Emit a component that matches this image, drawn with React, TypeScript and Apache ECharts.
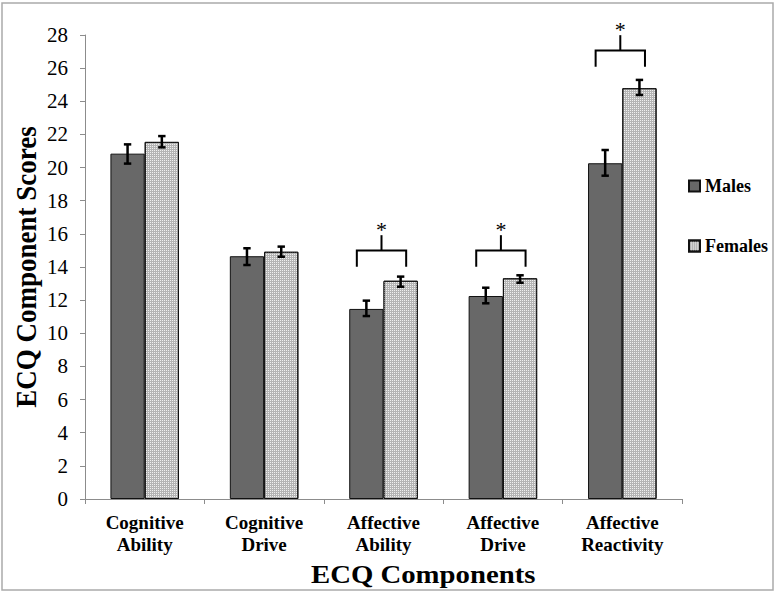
import React, { useEffect, useRef } from "react";
import * as echarts from "echarts";

const categories = [
  "Cognitive\nAbility",
  "Cognitive\nDrive",
  "Affective\nAbility",
  "Affective\nDrive",
  "Affective\nReactivity",
];
const seriesNames = ["Males", "Females"];
const malesMean = [20.84, 14.65, 11.47, 12.25, 20.26];
const malesErrLow = [20.24, 14.12, 11.04, 11.81, 19.51];
const malesErrHigh = [21.4, 15.13, 11.97, 12.75, 21.06];
const femalesMean = [21.55, 14.92, 13.17, 13.32, 24.79];
const femalesErrLow = [21.22, 14.62, 12.81, 13.05, 24.38];
const femalesErrHigh = [21.9, 15.23, 13.42, 13.5, 25.29];
// significance brackets: category index and the value where bracket legs end
const bracketCategory = [2, 3, 4];
const bracketBase = [14.02, 14.02, 26.09];
const yTicks = { min: 0, max: 28, interval: 2 };

const BAR_FRAC = 0.287;
const SERIF = '"Liberation Serif", "Times New Roman", serif';

export default function App() {
  const ref = useRef<HTMLDivElement>(null);
  useEffect(() => {
    if (!ref.current) return;
    const chart = echarts.init(ref.current, undefined, { renderer: "svg" });

    const errSeries = (name: string, lo: number[], hi: number[], side: number) => ({
      type: "custom",
      name: name + " err",
      z: 5,
      data: lo.map((v, i) => [i, v, hi[i]]),
      encode: { x: 0, y: [1, 2] },
      renderItem: (params: any, api: any) => {
        const i = api.value(0);
        const cw = api.size([1, 0])[0];
        const p1 = api.coord([i, api.value(1)]);
        const p2 = api.coord([i, api.value(2)]);
        const x = p1[0] + (side * cw * BAR_FRAC) / 2;
        const cap = 3.7;
        const st = { stroke: "#000", lineWidth: 2.5 };
        return {
          type: "group",
          children: [
            { type: "line", shape: { x1: x, y1: p1[1], x2: x, y2: p2[1] }, style: st },
            { type: "line", shape: { x1: x - cap, y1: p1[1], x2: x + cap, y2: p1[1] }, style: st },
            { type: "line", shape: { x1: x - cap, y1: p2[1], x2: x + cap, y2: p2[1] }, style: st },
          ],
        };
      },
    });

    const option: any = {
      animation: false,
      aria: { enabled: false },
      grid: { left: 85, right: 95, top: 35, bottom: 99 },
      legend: {
        data: seriesNames,
        orient: "vertical",
        left: 683,
        top: 172,
        itemWidth: 11,
        itemHeight: 11,
        itemGap: 42,
        icon: "rect",
        textStyle: { fontFamily: SERIF, fontWeight: "bold", fontSize: 18, color: "#000" },
      },
      xAxis: {
        type: "category",
        data: categories,
        axisLine: { lineStyle: { color: "#8c8c8c", width: 1 } },
        axisTick: { show: true, length: 5, lineStyle: { color: "#8c8c8c" } },
        axisLabel: {
          fontFamily: SERIF,
          fontWeight: "bold",
          fontSize: 19,
          lineHeight: 22,
          color: "#000",
          margin: 12,
          interval: 0,
        },
      },
      yAxis: {
        type: "value",
        min: yTicks.min,
        max: yTicks.max,
        interval: yTicks.interval,
        splitLine: { show: false },
        axisLine: { show: true, lineStyle: { color: "#8c8c8c", width: 1 } },
        axisTick: { show: true, length: 5, lineStyle: { color: "#8c8c8c" } },
        axisLabel: { fontFamily: SERIF, fontSize: 21, color: "#000", margin: 17 },
      },
      series: [
        {
          type: "bar",
          name: seriesNames[0],
          data: malesMean,
          barWidth: BAR_FRAC * 100 + "%",
          barGap: "0%",
          itemStyle: { color: "#686868", borderColor: "#111", borderWidth: 1 },
        },
        {
          type: "bar",
          name: seriesNames[1],
          data: femalesMean,
          barWidth: BAR_FRAC * 100 + "%",
          barGap: "0%",
          itemStyle: {
            color: "#b4b4b4",
            borderColor: "#111",
            borderWidth: 1,
            decal: {
              symbol: "rect",
              symbolSize: 1,
              color: "#f0f0f0",
              dashArrayX: [1, 1],
              dashArrayY: [1, 1],
              rotation: 0,
            },
          },
        },
        errSeries("Males", malesErrLow, malesErrHigh, -1),
        errSeries("Females", femalesErrLow, femalesErrHigh, 1),
        {
          type: "custom",
          name: "brackets",
          z: 6,
          clip: false,
          data: bracketCategory.map((c, k) => [c, bracketBase[k]]),
          encode: { x: 0, y: 1 },
          renderItem: (params: any, api: any) => {
            const i = api.value(0);
            const b = api.value(1);
            const cw = api.size([1, 0])[0];
            const half = cw * BAR_FRAC * 0.72;
            const pLeg = api.coord([i, b]);
            const pBar = api.coord([i, b + 0.97]);
            const pTop = api.coord([i, b + 1.9]);
            const pStar = api.coord([i, b + 2.45]);
            const cx = pLeg[0] - 2;
            const st = { stroke: "#000", lineWidth: 2, fill: "none" };
            return {
              type: "group",
              children: [
                {
                  type: "polyline",
                  shape: {
                    points: [
                      [cx - half, pLeg[1]],
                      [cx - half, pBar[1]],
                      [cx + half, pBar[1]],
                      [cx + half, pLeg[1]],
                    ],
                  },
                  style: st,
                },
                { type: "line", shape: { x1: cx, y1: pBar[1], x2: cx, y2: pTop[1] }, style: st },
                {
                  type: "text",
                  x: cx,
                  y: pStar[1] + 3,
                  style: {
                    text: "*",
                    fontFamily: SERIF,
                    fontSize: 22,
                    fill: "#000",
                    align: "center",
                    verticalAlign: "middle",
                  },
                },
              ],
            };
          },
        },
      ],
      graphic: [
        {
          type: "rect",
          silent: true,
          shape: { x: 2, y: 3, width: 771, height: 587 },
          style: { fill: "none", stroke: "#aaaaaa", lineWidth: 1.5 },
        },
        {
          type: "text",
          x: 26,
          y: 267,
          rotation: Math.PI / 2,
          scaleY: 1.1,
          style: {
            text: "ECQ Component Scores",
            fontFamily: SERIF,
            fontWeight: "bold",
            fontSize: 27,
            fill: "#000",
            align: "center",
            verticalAlign: "middle",
          },
        },
        {
          type: "text",
          x: 311,
          y: 575,
          scaleX: 1.15,
          style: {
            text: "ECQ Components",
            fontFamily: SERIF,
            fontWeight: "bold",
            fontSize: 25,
            fill: "#000",
            align: "left",
            verticalAlign: "middle",
          },
        },
      ],
    };
    chart.setOption(option);
    return () => chart.dispose();
  }, []);
  return (
    <div
      ref={ref}
      style={{ position: "fixed", left: 0, top: 0, width: 777, height: 598, background: "#fff" }}
    />
  );
}
